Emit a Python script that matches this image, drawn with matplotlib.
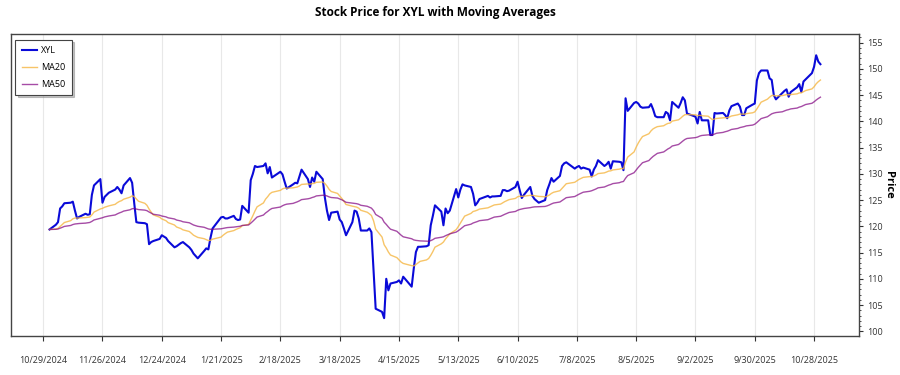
import matplotlib
matplotlib.use("Agg")
import matplotlib.pyplot as plt
from matplotlib.ticker import MultipleLocator, AutoMinorLocator
import pandas as pd
import numpy as np

# closing prices, one list per month
close_nov24 = [119.4, 120.3, 120.8, 123.4, 123.8, 124.4, 124.5, 124.7, 123.0, 121.5,
               121.8, 122.4, 122.2, 122.3, 126.0, 127.8, 129.0, 124.5, 125.6, 126.4]
close_dec24 = [127.0, 127.5, 127.0, 126.3, 127.8, 129.2, 128.3, 124.4, 120.8, 120.7,
               120.6, 120.4, 116.6, 117.0, 117.2, 117.6, 118.3, 117.8, 117.2, 116.0, 116.2]
close_jan25 = [116.8, 117.0, 116.0, 115.5, 114.8, 113.9, 115.3, 115.8, 115.6, 117.8,
               119.6, 121.7, 121.8, 121.5, 121.5, 122.0, 121.4, 121.2, 121.3, 123.9]
close_feb25 = [122.6, 128.8, 130.0, 131.5, 131.3, 131.5, 132.0, 130.1, 131.3, 129.3,
               130.4, 129.9, 128.5, 127.2, 128.0, 128.3, 128.2, 129.5, 130.8]
close_mar25 = [129.0, 127.5, 129.3, 128.5, 130.4, 129.0, 125.5, 123.0, 121.2, 122.6,
               122.8, 121.3, 120.8, 119.6, 118.3, 120.8, 123.0, 122.8, 121.5, 119.2, 119.2]
close_apr25 = [119.6, 118.9, 111.5, 104.3, 103.7, 102.5, 110.0, 107.8, 109.1, 109.4,
               109.7, 109.1, 110.4, 108.5, 112.0, 115.1, 116.1, 116.1, 116.2, 116.4, 120.2]
close_may25 = [122.0, 124.0, 122.8, 120.2, 123.4, 122.5, 123.0, 127.1, 125.5, 127.0,
               128.0, 127.8, 127.5, 126.2, 124.0, 124.5, 125.2, 125.8, 125.5, 125.7, 125.7]
close_jun25 = [125.8, 126.9, 126.9, 126.7, 126.8, 127.5, 128.5, 126.9, 125.4, 126.0,
               127.5, 125.8, 125.2, 124.5, 125.0, 126.9, 128.0, 129.2, 128.5, 129.6]
close_jul25 = [131.5, 132.0, 132.2, 131.0, 131.3, 131.5, 131.0, 131.2, 130.8, 129.5,
               130.8, 131.5, 132.6, 131.5, 131.8, 132.3, 131.0, 132.4, 132.3, 132.2,
               130.7, 144.4]
close_aug25 = [142.0, 143.5, 143.7, 143.4, 142.8, 142.6, 142.7, 143.3, 142.3, 141.0,
               140.8, 140.8, 141.8, 141.5, 140.2, 143.7, 142.6, 143.5, 144.6, 144.0, 141.5]
close_sep25 = [140.9, 139.6, 141.8, 140.2, 140.2, 137.4, 137.4, 141.6, 141.5, 141.6,
               141.2, 140.6, 142.1, 142.9, 143.4, 142.8, 141.2, 141.2, 142.5, 143.2, 143.4]
close_oct25 = [147.8, 149.2, 149.7, 149.7, 148.2, 147.9, 145.0, 144.2, 145.4, 145.8,
               146.1, 144.7, 145.6, 146.5, 147.1, 145.6, 147.6, 148.0, 149.2, 150.4,
               152.6, 151.4, 150.9]

# market holidays in the period
holidays = ["2024-11-28", "2024-12-25", "2025-01-01", "2025-01-09", "2025-01-20",
            "2025-02-17", "2025-04-18", "2025-05-26", "2025-06-19", "2025-07-04",
            "2025-09-01"]

tick_dates = pd.date_range("2024-10-29", periods=14, freq="28D")

dates = pd.bdate_range("2024-11-01", "2025-10-31").drop(pd.to_datetime(holidays))
close = (close_nov24 + close_dec24 + close_jan25 + close_feb25 + close_mar25 + close_apr25
         + close_may25 + close_jun25 + close_jul25 + close_aug25 + close_sep25 + close_oct25)

df = pd.DataFrame({"Close": close}, index=dates)
# the averages in the chart start on the first close and lag like exponential ones
df["MA20"] = df["Close"].ewm(span=20, adjust=False).mean()
df["MA50"] = df["Close"].ewm(span=50, adjust=False).mean()

plt.rcParams["font.family"] = ["Open Sans", "DejaVu Sans"]

fig = plt.figure(figsize=(9, 3.75), dpi=100)
ax = fig.add_subplot(1, 1, 1)
fig.subplots_adjust(left=0.0122, right=0.9544, top=0.9093, bottom=0.104)

ax.plot(df.index, df["Close"], color="#0a0ad8", lw=1.5, label="XYL")
ax.plot(df.index, df["MA20"], color="#f5b642", lw=1, alpha=0.8, label="MA20")
ax.plot(df.index, df["MA50"], color="purple", lw=1, alpha=0.7, label="MA50")

ax.set_ylim(99.1, 156.65)
ax.yaxis.tick_right()
ax.yaxis.set_label_position("right")
ax.yaxis.set_major_locator(MultipleLocator(5))
ax.yaxis.set_minor_locator(AutoMinorLocator(5))
ax.set_ylabel("Price", rotation=270, labelpad=8, fontsize=8, fontweight="bold")

ax.set_xticks(tick_dates)
ax.set_xticklabels([f"{d.month}/{d.day}/{d.year}" for d in tick_dates])
ax.grid(axis="x", color="#e8e8e8", lw=0.8)
ax.set_axisbelow(True)

ax.tick_params(axis="x", labelsize=6.5, colors="#333333", length=3.5, pad=11)
ax.tick_params(axis="y", which="major", labelsize=6.5, colors="#333333", length=3, pad=3)
ax.tick_params(axis="y", which="minor", length=1.5, colors="#333333")
for s in ax.spines.values():
    s.set_color("#444444")
    s.set_linewidth(1)

ax.set_title("Stock Price for XYL with Moving Averages", fontsize=8.5, fontweight="bold", pad=13)

leg = ax.legend(loc="upper left", fontsize=6.5, frameon=True, fancybox=False,
                shadow={"ox": 1.5, "oy": -1.5, "color": "0.55"},
                edgecolor="#444444", handlelength=1.7, handletextpad=0.45, borderpad=0.7,
                labelspacing=0.85, bbox_to_anchor=(0.0, 0.995))
leg.get_frame().set_linewidth(0.8)

fig.savefig("out.png", dpi=100)
